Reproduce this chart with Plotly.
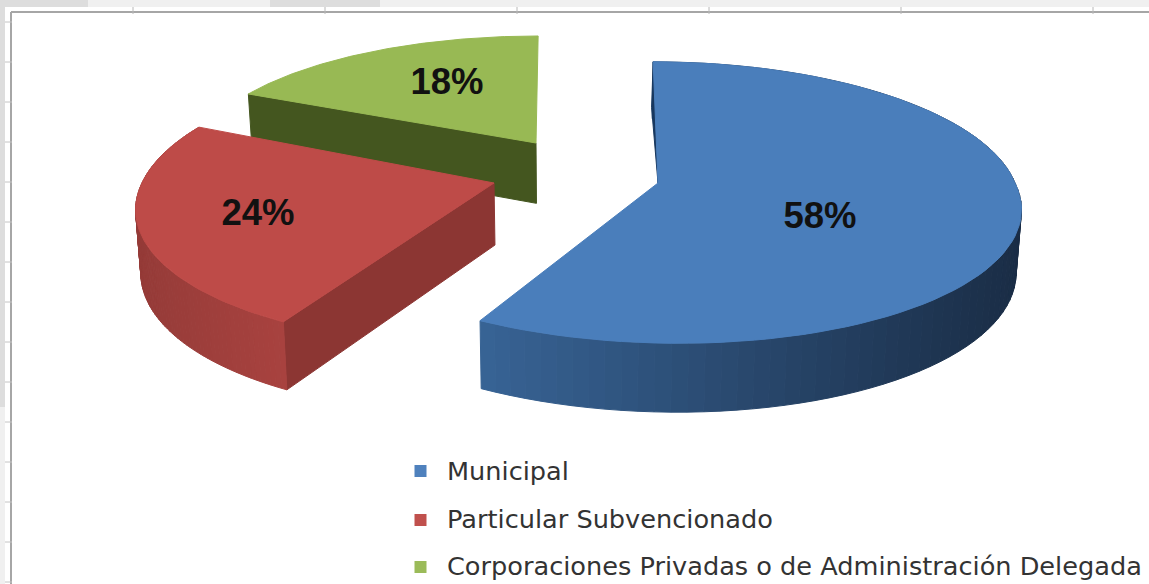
import math
import plotly.graph_objects as go

categories = ["Municipal", "Particular Subvencionado", "Corporaciones Privadas o de Administración Delegada"]
shares = [58, 24, 18]

W, H = 1149, 584
top_colors = ["#4a7ebb", "#be4b48", "#98b954"]
legend_colors = ["#4f81bd", "#c0504d", "#9bbb59"]
# per-slice placement of the exploded pie: apex, radii, perspective, shear behind/in front of the apex
place = [
    dict(ax=658, ay=183, rx=357, ry=138, k=0.139, sb=0.04, sf=0.13),
    dict(ax=494, ay=183, rx=352, ry=139, k=0.14, sb=-0.10, sf=-0.125),
    dict(ax=536, ay=143, rx=338, ry=122, k=0.14, sb=-0.02, sf=0.0),
]
label_pos = [(820, 219), (258, 216), (447, 85)]
legend_marker_x = 420.5
legend_text_x = 447
legend_marker_y = [471, 520, 567]
legend_text_y = [474, 522, 569]
wall_ramps = [((0x38, 0x64, 0x96), (0x1a, 0x2d, 0x46)),
              ((0xa8, 0x42, 0x3f), (0x95, 0x3b, 0x38)),
              ((0x46, 0x5a, 0x20), (0x46, 0x5a, 0x20))]
edge_wall = ["#17375e", "#8c3633", "#44561f"]


def project(p, deg):
    t = math.radians(deg)
    u, v = math.sin(t), -math.cos(t)
    d = 1 - p["k"] * v
    dy = p["ry"] * v / d
    s = p["sf"] if dy > 0 else p["sb"]
    return p["ax"] + p["rx"] * u / d + s * dy, p["ay"] + dy


def drop(pt):
    x, y = pt
    return x - (x - 574) * 0.012, y + 62 + 6 * (y - 182) / 140


def mix(a, b, f):
    f = max(0, min(1, f))
    return "rgb(%d,%d,%d)" % tuple(round(a[i] + (b[i] - a[i]) * f) for i in range(3))


fig = go.Figure()


def poly(pts, color, line=None):
    xs = [q[0] for q in pts] + [pts[0][0]]
    ys = [q[1] for q in pts] + [pts[0][1]]
    fig.add_trace(go.Scatter(x=xs, y=ys, mode="lines", fill="toself", fillcolor=color,
                             line=dict(color=line or color, width=1),
                             showlegend=False, hoverinfo="skip"))


# angular extents from the values, clockwise from 12 o'clock
spans = []
a0 = 0.0
for v in shares:
    a1 = a0 + v / sum(shares) * 360
    spans.append((a0, a1))
    a0 = a1

for i in [2, 1, 0]:
    p = place[i]
    start, end = spans[i]
    n = 90
    arc = [project(p, start + (end - start) * j / n) for j in range(n + 1)]
    apex = (p["ax"], p["ay"])
    if i == 2:  # green: the edge facing the viewer is the start edge
        a = arc[0]
        poly([a, apex, drop(apex), drop(a)], edge_wall[i])
    elif i == 1:
        first = arc[0]
        poly([apex, first, drop(first), drop(apex)], edge_wall[i])
    if i != 2:
        xmin = min(q[0] for q in arc)
        xmax = max(q[0] for q in arc)
        for j in range(n):
            f = (arc[j][0] - xmin) / (xmax - xmin)
            if i == 1:
                f = 1 - f
            c = mix(wall_ramps[i][0], wall_ramps[i][1], f)
            poly([arc[j], arc[j + 1], drop(arc[j + 1]), drop(arc[j])], c)
    if i == 0:
        a = arc[0]
        poly([a, apex, ((a[0] + apex[0]) / 2 - 4, (a[1] + apex[1]) / 2 - 15)], edge_wall[i])
    poly([apex] + arc, top_colors[i])

fig.add_trace(go.Scatter(
    x=[q[0] for q in label_pos], y=[q[1] for q in label_pos],
    mode="text", text=[f"{v}%" for v in shares],
    textfont=dict(family="Liberation Sans", size=36.5, color="#111111", weight="bold"),
    showlegend=False, hoverinfo="skip"))

# key below the pie
for name, col, yy in zip(categories, legend_colors, legend_marker_y):
    fig.add_trace(go.Scatter(x=[legend_marker_x], y=[yy], mode="markers", name=name, showlegend=False,
                             marker=dict(symbol="square", size=12, color=col, line_width=0)))
fig.add_trace(go.Scatter(
    x=[legend_text_x] * 3, y=legend_text_y, mode="text", text=categories, textposition="middle right",
    textfont=dict(family="DejaVu Sans", size=25.6, color="#333333"),
    showlegend=False, hoverinfo="skip"))

# spreadsheet frame behind the chart
shapes = []
for x0, y0, x1, y1, c in [
    (0, 0, W, 7, "#f0f0f0"), (0, 0, 88, 7, "#dddddd"), (270, 0, 380, 7, "#dddddd"),
    (0, 7, 5, 407, "#dddddd"), (0, 407, 5, H, "#f0f0f0"),
]:
    shapes.append(dict(type="rect", x0=x0, y0=y0, x1=x1, y1=y1, fillcolor=c, line_width=0, layer="below"))
shapes.append(dict(type="line", x0=11, x1=W, y0=12, y1=12, line=dict(color="#a6a6a6", width=2), layer="below"))
shapes.append(dict(type="line", x0=11, x1=11, y0=12, y1=H, line=dict(color="#a6a6a6", width=2), layer="below"))
for x in range(133, W, 192):
    shapes.append(dict(type="line", x0=x, x1=x, y0=7, y1=14, line=dict(color="#b8b8b8", width=1), layer="below"))
for y in range(22, H, 40):
    shapes.append(dict(type="line", x0=5, x1=12, y0=y, y1=y, line=dict(color="#c4c4c4", width=1), layer="below"))

fig.update_layout(
    width=W, height=H, autosize=False,
    margin=dict(l=0, r=0, t=0, b=0),
    paper_bgcolor="white", plot_bgcolor="white",
    xaxis=dict(range=[0, W], visible=False, fixedrange=True),
    yaxis=dict(range=[H, 0], visible=False, fixedrange=True),
    shapes=shapes,
    showlegend=False,
)
fig.write_html("out.html", post_script="document.body.style.margin='0';", config=dict(displayModeBar=False))
